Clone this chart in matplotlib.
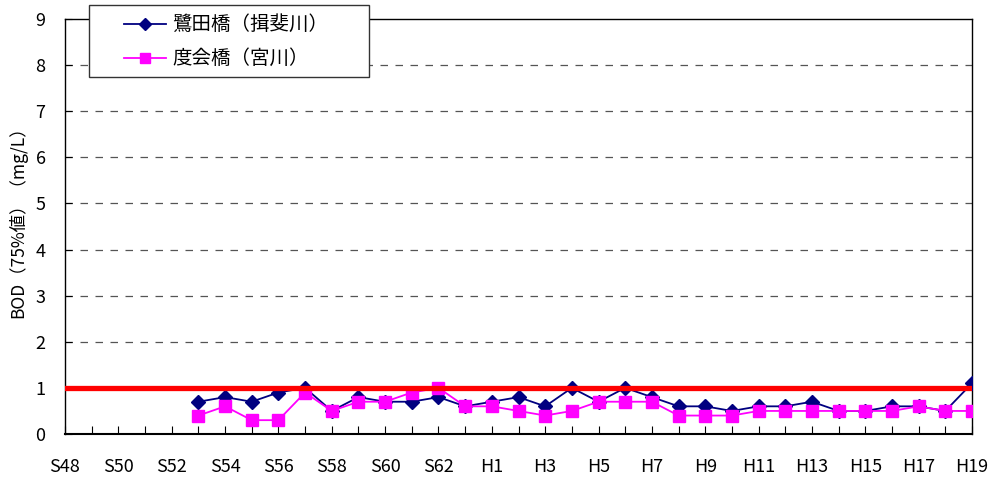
import numpy as np
import matplotlib
matplotlib.use("Agg")
import matplotlib.pyplot as plt
from matplotlib.lines import Line2D
from matplotlib.patches import Rectangle

# Fiscal years: Showa 48-63, Heisei 1-19
years = [f"S{y}" for y in range(48, 64)] + [f"H{y}" for y in range(1, 20)]
tick_labels = [y if i % 2 == 0 else "" for i, y in enumerate(years)]

nan = np.nan
# BOD 75% values (mg/L)
sagita = [nan, nan, nan, nan, nan,
          0.7, 0.8, 0.7, 0.9, 1.0, 0.5, 0.8, 0.7, 0.7, 0.8, 0.6,
          0.7, 0.8, 0.6, 1.0, 0.7, 1.0, 0.8, 0.6, 0.6, 0.5,
          0.6, 0.6, 0.7, 0.5, 0.5, 0.6, 0.6, 0.5, 1.1]
watarai = [nan, nan, nan, nan, nan,
           0.4, 0.6, 0.3, 0.3, 0.9, 0.5, 0.7, 0.7, 0.9, 1.0, 0.6,
           0.6, 0.5, 0.4, 0.5, 0.7, 0.7, 0.7, 0.4, 0.4, 0.4,
           0.5, 0.5, 0.5, 0.5, 0.5, 0.5, 0.6, 0.5, 0.5]
standard = 1.0

series_names = ["鷺田橋（揖斐川）", "度会橋（宮川）"]
series_styles = [
    dict(color="#000080", marker="D", ms=7),
    dict(color="#FF00FF", marker="s", ms=8),
]

cjk = "Noto Sans CJK JP"
W, H = 989, 478

fig = plt.figure(figsize=(W / 100, H / 100), dpi=100)
ax = fig.add_axes([65 / W, 1 - 434 / H, (972 - 65) / W, (434 - 19) / H])

x = np.arange(len(years))
for vals, st in zip([sagita, watarai], series_styles):
    ax.plot(x, vals, color=st["color"], lw=1.3, marker=st["marker"], ms=st["ms"],
            markerfacecolor=st["color"], markeredgecolor=st["color"], zorder=3)
ax.axhline(standard, color="#FF0000", lw=3.8, zorder=4)

ax.set_xlim(0, len(years) - 1)
ax.set_ylim(0, 9)
ax.set_yticks(range(0, 10))
for yv in range(2, 9):
    ax.axhline(yv, color="#555555", lw=0.9, ls=(0, (6, 6)), zorder=1)

ax.set_xticks(x)
ax.set_xticklabels(tick_labels, fontfamily=cjk, fontsize=13)
ax.set_yticklabels([str(v) for v in range(0, 10)], fontfamily=cjk, fontsize=13)
ax.tick_params(axis="x", direction="in", length=6, width=0.8, pad=17)
ax.tick_params(axis="y", direction="in", length=5, width=0.8, pad=14)

for s in ax.spines.values():
    s.set_color("black")
    s.set_linewidth(1.0)
ax.spines["bottom"].set_linewidth(1.5)

fig.text(18 / W, 1 - 218 / H, "BOD（75%値）（mg/L）", rotation=90,
         ha="center", va="center", fontsize=12.5, fontfamily=cjk)

# Legend box drawn in figure pixel space
def fx(px):
    return px / W

def fy(py):
    return 1 - py / H

fig.patches.append(Rectangle((fx(89), fy(77)), fx(369) - fx(89), fy(5) - fy(77),
                             transform=fig.transFigure, facecolor="white",
                             edgecolor="#333333", lw=1.0, zorder=5))
for row_y, name, st in zip([24, 58], series_names, series_styles):
    fig.lines.append(Line2D([fx(124), fx(166)], [fy(row_y), fy(row_y)],
                            transform=fig.transFigure, color=st["color"], lw=1.3, zorder=6))
    fig.lines.append(Line2D([fx(145)], [fy(row_y)], transform=fig.transFigure,
                            color=st["color"], marker=st["marker"], ms=st["ms"] - 1,
                            markerfacecolor=st["color"], markeredgecolor=st["color"],
                            zorder=7))
    fig.text(fx(172), fy(row_y), name, ha="left", va="center",
             fontsize=14, fontfamily=cjk, zorder=7)

fig.savefig("out.png", dpi=100)
